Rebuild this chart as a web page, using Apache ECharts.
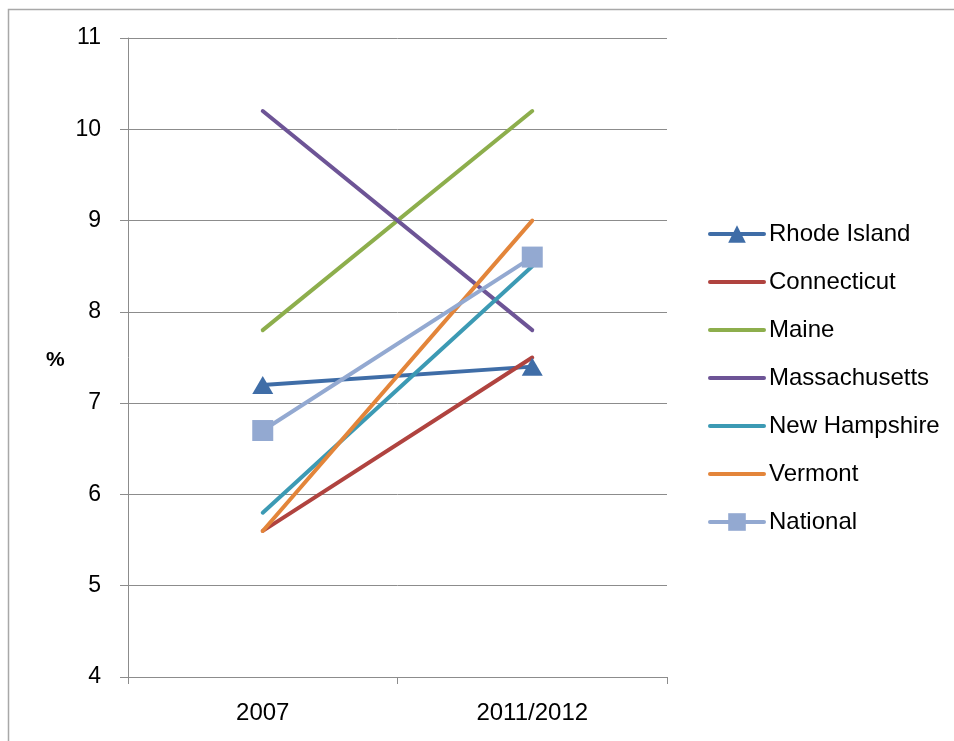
<!DOCTYPE html>
<html>
<head>
<meta charset="utf-8">
<script src="https://cdn.jsdelivr.net/npm/echarts@6/dist/echarts.min.js"></script>
<style>
  html, body { margin: 0; padding: 0; background: #fff; }
  #chart { width: 954px; height: 741px; }
</style>
</head>
<body>
<div id="chart"></div>
<script>
// Survey periods on the x axis
const periods = ['2007', '2011/2012'];

// Rates (%) by state, plus the national figure
const rhodeIsland    = [7.2, 7.4];
const connecticut    = [5.6, 7.5];
const maine          = [7.8, 10.2];
const massachusetts  = [10.2, 7.8];
const newHampshire   = [5.8, 8.5];
const vermont        = [5.6, 9.0];
const national       = [6.7, 8.6];

const seriesDefs = [
  { name: 'Rhode Island',  data: rhodeIsland,   color: '#3F6DA7', symbol: 'triangle', size: [21, 18] },
  { name: 'Connecticut',   data: connecticut,   color: '#B0433F', symbol: 'none' },
  { name: 'Maine',         data: maine,         color: '#8DAE4C', symbol: 'none' },
  { name: 'Massachusetts', data: massachusetts, color: '#6D5496', symbol: 'none' },
  { name: 'New Hampshire', data: newHampshire,  color: '#3C9AB4', symbol: 'none' },
  { name: 'Vermont',       data: vermont,       color: '#E3853A', symbol: 'none' },
  { name: 'National',      data: national,      color: '#93A9D1', symbol: 'rect', size: 21 }
];

const font = '"Liberation Sans", Arial, sans-serif';
const axisGray = '#8C8C8C';

const chart = echarts.init(document.getElementById('chart'), null, { renderer: 'canvas' });

chart.setOption({
  animation: false,
  backgroundColor: '#ffffff',
  grid: { left: 128, top: 38, right: 287, bottom: 64, containLabel: false },
  xAxis: {
    type: 'category',
    data: periods,
    boundaryGap: true,
    axisLine: { lineStyle: { color: axisGray, width: 1 } },
    axisTick: { show: true, alignWithLabel: false, length: 7, lineStyle: { color: axisGray } },
    axisLabel: { color: '#000', fontFamily: font, fontSize: 24, margin: 24 },
    splitLine: { show: false }
  },
  yAxis: {
    type: 'value',
    min: 4,
    max: 11,
    interval: 1,
    axisLine: { show: true, lineStyle: { color: axisGray, width: 1 } },
    axisTick: { show: true, length: 8, lineStyle: { color: axisGray } },
    axisLabel: { color: '#000', fontFamily: font, fontSize: 23, margin: 27 },
    splitLine: { show: true, lineStyle: { color: axisGray, width: 1 } }
  },
  legend: {
    orient: 'vertical',
    left: 708,
    top: 222,
    padding: 0,
    itemWidth: 54,
    itemHeight: 22,
    itemGap: 24,
    lineStyle: { width: 4 },
    textStyle: { color: '#000', fontFamily: font, fontSize: 24, lineHeight: 22, padding: [0, 0, 0, 0] },
    // plain-line series show only their line in the key
    data: seriesDefs.map(s => s.symbol === 'none'
      ? { name: s.name, itemStyle: { opacity: 0 } }
      : { name: s.name })
  },
  graphic: [
    {
      type: 'rect',
      z: -1,
      shape: { x: 8.5, y: 9.5, width: 1000, height: 800 },
      style: { fill: 'none', stroke: '#A8A8A8', lineWidth: 1.5 }
    },
    {
      type: 'text',
      left: 46,
      top: 350,
      style: { text: '%', fill: '#000', font: 'bold 21px ' + font }
    }
  ],
  series: seriesDefs.map(s => ({
    name: s.name,
    type: 'line',
    data: s.data,
    symbol: s.symbol,
    symbolSize: s.size || 0,
    showSymbol: s.symbol !== 'none',
    color: s.color,
    lineStyle: { color: s.color, width: 4, cap: 'round' },
    itemStyle: { color: s.color, borderWidth: 0 },
    emphasis: { disabled: true }
  }))
});
</script>
</body>
</html>
